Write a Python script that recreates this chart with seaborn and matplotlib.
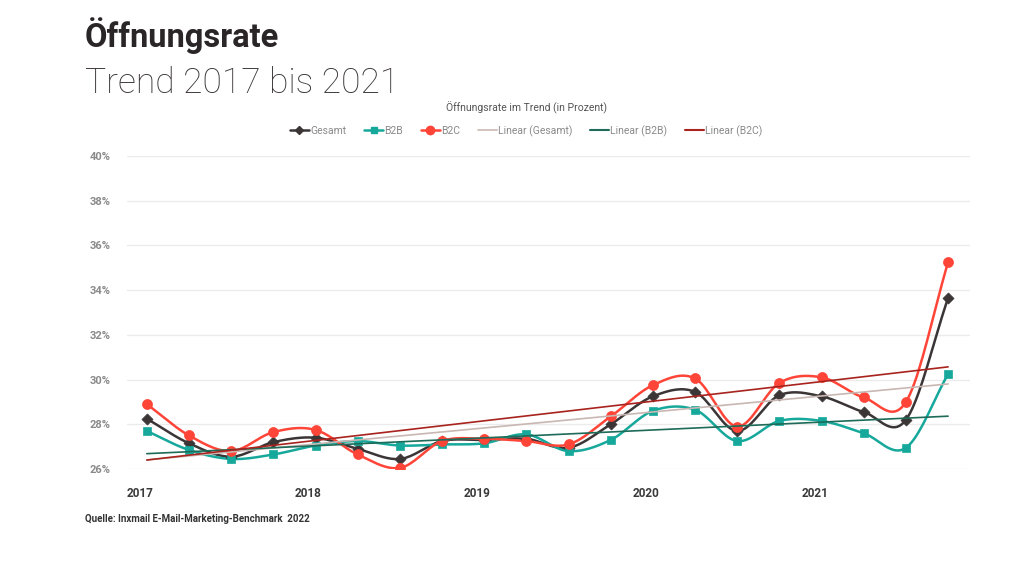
import numpy as np
import matplotlib
matplotlib.use("Agg")
import matplotlib.pyplot as plt
import matplotlib.transforms as mtransforms
from matplotlib.lines import Line2D
import seaborn as sns

# quarterly values 2017 Q1 .. 2021 Q4 (percent)
quarters = list(range(20))
year_labels = ["2017", "2018", "2019", "2020", "2021"]
gesamt = [28.25, 27.15, 26.55, 27.2, 27.4, 26.9, 26.45, 27.25, 27.3, 27.35,
          26.95, 28.0, 29.25, 29.45, 27.7, 29.3, 29.25, 28.55, 28.2, 33.65]
b2b = [27.7, 26.85, 26.45, 26.65, 27.05, 27.25, 27.05, 27.1, 27.15, 27.55,
       26.8, 27.3, 28.6, 28.65, 27.25, 28.15, 28.15, 27.6, 26.95, 30.25]
b2c = [28.9, 27.5, 26.8, 27.65, 27.75, 26.65, 26.05, 27.25, 27.35, 27.25,
       27.1, 28.35, 29.75, 30.05, 27.9, 29.85, 30.1, 29.2, 29.0, 35.25]
y_ticks = [26, 28, 30, 32, 34, 36, 38, 40]

c_ges = "#3b3536"
c_b2b = "#16a89b"
c_b2c = "#ff4438"
c_lin_ges = "#c9b7b3"
c_lin_b2b = "#1d6b58"
c_lin_b2c = "#a8231d"


def smooth(x, y, n=20):
    # catmull-rom curve through the points, like a smoothed office line
    x = np.asarray(x, float)
    y = np.asarray(y, float)
    px = np.concatenate([[2 * x[0] - x[1]], x, [2 * x[-1] - x[-2]]])
    py = np.concatenate([[2 * y[0] - y[1]], y, [2 * y[-1] - y[-2]]])
    t = np.linspace(0, 1, n, endpoint=False)
    xs, ys = [], []
    for i in range(1, len(px) - 2):
        for p, out in ((px, xs), (py, ys)):
            p0, p1, p2, p3 = p[i - 1], p[i], p[i + 1], p[i + 2]
            out.extend(0.5 * (2 * p1 + (-p0 + p2) * t
                              + (2 * p0 - 5 * p1 + 4 * p2 - p3) * t ** 2
                              + (-p0 + 3 * p1 - 3 * p2 + p3) * t ** 3))
    xs.append(x[-1])
    ys.append(y[-1])
    return np.array(xs), np.array(ys)


sns.set_theme(style="white")
plt.rcParams["font.family"] = ["Roboto", "DejaVu Sans"]

fig = plt.figure(figsize=(10.2, 5.74), dpi=100)
ax = fig.add_axes([0.1245, 0.1829, 0.8265, 0.5453])

series = [(gesamt, c_ges, "D", 32), (b2b, c_b2b, "s", 36), (b2c, c_b2c, "o", 52)]
for vals, col, mk, ms in series:
    sx, sy = smooth(quarters, vals)
    sns.lineplot(x=sx, y=sy, sort=False, estimator=None, color=col, lw=1.8, ax=ax, zorder=3)
    sns.scatterplot(x=quarters, y=vals, color=col, marker=mk, s=ms, edgecolor=col,
                    linewidth=0.5, ax=ax, zorder=4)

for vals, col in ((gesamt, c_lin_ges), (b2b, c_lin_b2b), (b2c, c_lin_b2c)):
    sns.regplot(x=quarters, y=vals, scatter=False, ci=None, color=col,
                line_kws={"lw": 1.2, "zorder": 5}, ax=ax)

ax.set_xlim(-0.47, 19.52)
ax.set_ylim(26, 40)
ax.set_yticks(y_ticks)
ax.set_yticklabels([f"{v}%" for v in y_ticks], fontsize=8, fontweight="bold", color="#8a8a8a")
ax.set_xticks(quarters)
ax.set_xticklabels([year_labels[i // 4] if i % 4 == 0 else "" for i in quarters],
                   fontsize=8.5, fontweight="bold", color="#3a3a3a")
ax.tick_params(axis="x", length=5, color="#e2e2e2", width=0.8, pad=8)
ax.tick_params(axis="y", length=0, pad=12)
offset = mtransforms.ScaledTranslation(-7 / 100, 0, fig.dpi_scale_trans)
for lab in ax.get_xticklabels():
    lab.set_transform(lab.get_transform() + offset)
ax.grid(axis="y", color="#ebebeb", lw=1)
for s in ax.spines.values():
    s.set_visible(False)
ax.set_xlabel("")
ax.set_ylabel("")

handles = [
    Line2D([], [], color=c_ges, marker="D", ms=4.5, lw=1.8),
    Line2D([], [], color=c_b2b, marker="s", ms=5, lw=1.8),
    Line2D([], [], color=c_b2c, marker="o", ms=6, lw=1.8),
    Line2D([], [], color=c_lin_ges, lw=1.2),
    Line2D([], [], color=c_lin_b2b, lw=1.5),
    Line2D([], [], color=c_lin_b2c, lw=1.5),
]
labels = ["Gesamt", "B2B", "B2C", "Linear (Gesamt)", "Linear (B2B)", "Linear (B2C)"]
leg = fig.legend(handles, labels, loc="center", bbox_to_anchor=(0.516, 0.772), ncol=6,
                 frameon=False, fontsize=7.5, handlelength=1.8, handletextpad=0.1,
                 columnspacing=1.75)
for t in leg.get_texts():
    t.set_color("#8a8a8a")

fig.text(0.516, 0.813, "Öffnungsrate im Trend (in Prozent)", ha="center", va="center",
         fontsize=7.5, color="#555555")
fig.text(0.083, 0.918, "Öffnungsrate", fontsize=23.5, fontweight="bold", color="#2a2526",
         va="baseline")
fig.text(0.083, 0.838, "Trend 2017 bis 2021", fontsize=25.5, fontweight="light",
         color="#3a3536", va="baseline")
fig.text(0.083, 0.091, "Quelle: Inxmail E-Mail-Marketing-Benchmark  2022", fontsize=7,
         fontweight="bold", color="#333333", va="baseline")

fig.savefig("out.png", dpi=100, facecolor="white")
